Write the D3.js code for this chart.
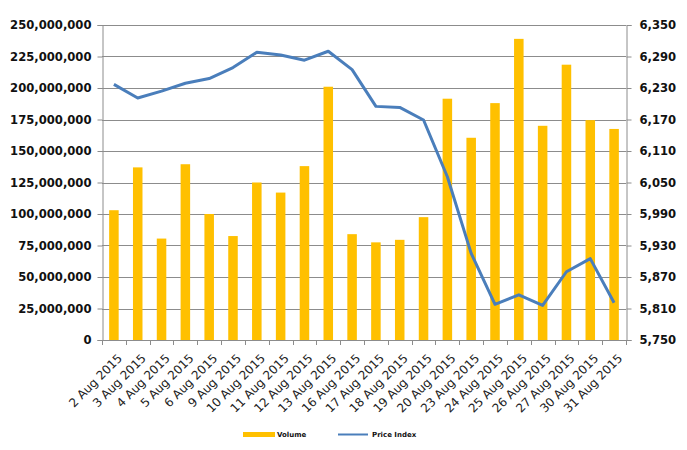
<!DOCTYPE html>
<html><head><meta charset="utf-8">
<script src="https://cdn.jsdelivr.net/npm/d3@7"></script>
<style>
body{margin:0;background:#fff;}
svg{display:block;}
</style></head>
<body>
<svg id="c" width="687" height="450"></svg>
<script>
const categories = ["2 Aug 2015","3 Aug 2015","4 Aug 2015","5 Aug 2015","6 Aug 2015","9 Aug 2015","10 Aug 2015","11 Aug 2015","12 Aug 2015","13 Aug 2015","16 Aug 2015","17 Aug 2015","18 Aug 2015","19 Aug 2015","20 Aug 2015","23 Aug 2015","24 Aug 2015","25 Aug 2015","26 Aug 2015","27 Aug 2015","30 Aug 2015","31 Aug 2015"];
const volume = [103000000,137000000,80500000,139500000,100000000,82500000,125000000,117000000,138000000,201000000,84000000,77500000,79500000,97500000,191500000,160500000,188000000,239000000,170000000,218500000,174500000,167500000];
const priceIndex = [6237,6211,6224,6239,6248,6269,6298,6293,6283,6300,6265,6195,6193,6169,6061,5915,5818,5836,5816,5880,5905,5821];
const leftTicks = [0,25000000,50000000,75000000,100000000,125000000,150000000,175000000,200000000,225000000,250000000];
const rightTicks = [5750,5810,5870,5930,5990,6050,6110,6170,6230,6290,6350];
const seriesNames = ["Volume","Price Index"];

const svg = d3.select("#c");
const L = 102, R = 626, T = 25, B = 340;
const x = d3.scaleBand().domain(categories).range([L, R]).paddingInner(0.6).paddingOuter(0.3);
const yL = d3.scaleLinear().domain([0, 250000000]).range([B, T]);
const yR = d3.scaleLinear().domain([5750, 6350]).range([B, T]);
const fmt = d3.format(",");

// gridlines
svg.append("g").selectAll("line").data(leftTicks).join("line")
  .attr("x1", L).attr("x2", R)
  .attr("y1", d => Math.round(yL(d)) + 0.5).attr("y2", d => Math.round(yL(d)) + 0.5)
  .attr("stroke", "#8c8c8c").attr("stroke-width", 1);

// bars
svg.append("g").selectAll("rect").data(volume).join("rect")
  .attr("x", (d, i) => x(categories[i]))
  .attr("width", x.bandwidth())
  .attr("y", d => yL(d))
  .attr("height", d => B - yL(d))
  .attr("fill", "#FFC000");

// left axis
const gl = svg.append("g").attr("transform", `translate(${L + 0.5},0)`);
gl.call(d3.axisLeft(yL).tickValues(leftTicks).tickFormat(fmt).tickSize(5).tickPadding(6));
gl.select(".domain").attr("stroke", "#8c8c8c");
gl.selectAll(".tick line").attr("stroke", "#8c8c8c");
gl.selectAll("text").attr("font-family", "DejaVu Sans").attr("font-weight", "bold")
  .attr("font-size", "11.6px").attr("fill", "#111");

// right axis
const gr = svg.append("g").attr("transform", `translate(${R + 0.5},0)`);
gr.call(d3.axisRight(yR).tickValues(rightTicks).tickFormat(fmt).tickSize(5).tickPadding(8));
gr.select(".domain").attr("stroke", "#8c8c8c");
gr.selectAll(".tick line").attr("stroke", "#8c8c8c");
gr.selectAll("text").attr("font-family", "DejaVu Sans").attr("font-weight", "bold")
  .attr("font-size", "11.6px").attr("fill", "#111");

// bottom axis line + ticks at band boundaries
const bounds = d3.range(categories.length + 1).map(i => L + i * (R - L) / categories.length);
svg.append("line").attr("x1", L).attr("x2", R).attr("y1", B + 0.5).attr("y2", B + 0.5).attr("stroke", "#8c8c8c");
svg.append("g").selectAll("line").data(bounds).join("line")
  .attr("x1", d => Math.round(d) + 0.5).attr("x2", d => Math.round(d) + 0.5)
  .attr("y1", B).attr("y2", B + 5).attr("stroke", "#8c8c8c");

// x labels
svg.append("g").selectAll("text").data(categories).join("text")
  .attr("transform", d => `translate(${x(d) + x.bandwidth() / 2 + 9},${B + 19}) rotate(-45)`)
  .attr("text-anchor", "end")
  .attr("font-family", "DejaVu Sans").attr("font-size", "12px").attr("fill", "#222")
  .text(d => d);

// line
const line = d3.line().x((d, i) => x(categories[i]) + x.bandwidth() / 2).y(d => yR(d));
svg.append("path").datum(priceIndex).attr("d", line)
  .attr("fill", "none").attr("stroke", "#4A7EBB").attr("stroke-width", 3).attr("stroke-linejoin", "round");

// legend
const lg = svg.append("g");
lg.append("rect").attr("x", 243).attr("y", 432).attr("width", 32).attr("height", 5).attr("fill", "#FFC000");
lg.append("text").attr("x", 277).attr("y", 437).text(seriesNames[0])
  .attr("font-family", "DejaVu Sans").attr("font-weight", "bold").attr("font-size", "7px").attr("fill", "#111");
lg.append("line").attr("x1", 338).attr("x2", 368).attr("y1", 434.5).attr("y2", 434.5)
  .attr("stroke", "#4A7EBB").attr("stroke-width", 2);
lg.append("text").attr("x", 372).attr("y", 437).text(seriesNames[1])
  .attr("font-family", "DejaVu Sans").attr("font-weight", "bold").attr("font-size", "7px").attr("fill", "#111");
</script>
</body></html>
